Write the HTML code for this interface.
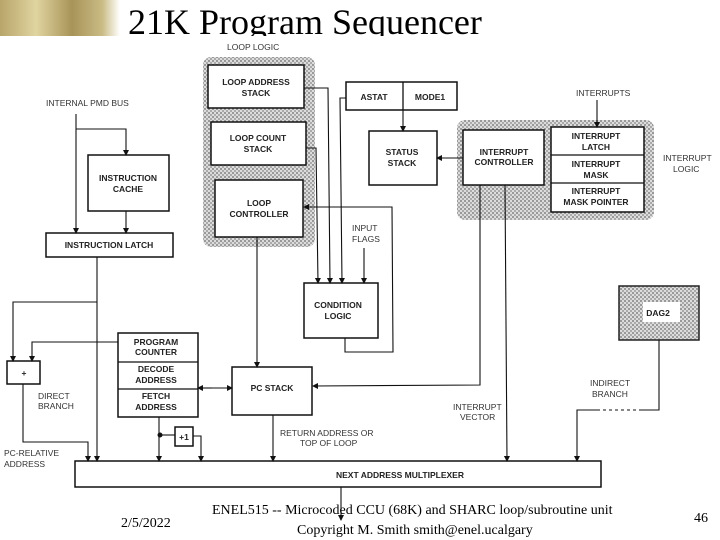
<!DOCTYPE html>
<html><head><meta charset="utf-8"><style>
html,body{margin:0;padding:0;background:#fff}
svg{display:block}
.t{font-family:"Liberation Sans",sans-serif;font-size:8.5px;font-weight:bold;fill:#222}
.l{font-family:"Liberation Sans",sans-serif;font-size:8.5px;fill:#333}
.s{font-family:"Liberation Serif",serif;fill:#000}
</style></head><body>
<svg width="720" height="540" viewBox="0 0 720 540" xmlns="http://www.w3.org/2000/svg">
<defs>
<linearGradient id="g" x1="0" x2="1" y1="0" y2="0">
<stop offset="0" stop-color="#b8a56a"/><stop offset="0.3" stop-color="#e0d4a0"/><stop offset="0.6" stop-color="#a89458"/><stop offset="0.85" stop-color="#c9bb85"/><stop offset="1" stop-color="#ffffff"/></linearGradient>
<pattern id="c" width="4" height="4" patternUnits="userSpaceOnUse"><rect width="4" height="4" fill="#dcdcdc"/><rect width="2" height="2" fill="#999"/><rect x="2" y="2" width="2" height="2" fill="#aaa"/></pattern>
<marker id="a" markerWidth="6" markerHeight="6" refX="5" refY="3" orient="auto" markerUnits="userSpaceOnUse"><path d="M0,0 L6,3 L0,6 z" fill="#111"/></marker>
</defs>
<rect x="0" y="0" width="120" height="36" fill="url(#g)"/>
<text class="s" x="128" y="34" font-size="36">21K Program Sequencer</text>
<rect x="0" y="36" width="720" height="10" fill="#fff"/>

<g class="l"><text x="227" y="50">LOOP LOGIC</text><text x="46" y="106">INTERNAL PMD BUS</text>
<text x="576" y="96">INTERRUPTS</text><text x="663" y="161">INTERRUPT</text><text x="673" y="172">LOGIC</text>
<text x="352" y="231">INPUT</text><text x="352" y="242">FLAGS</text>
<text x="38" y="399">DIRECT</text><text x="38" y="409">BRANCH</text>
<text x="4" y="456">PC-RELATIVE</text><text x="4" y="467">ADDRESS</text>
<text x="280" y="436">RETURN ADDRESS OR</text><text x="300" y="446">TOP OF LOOP</text>
<text x="453" y="410">INTERRUPT</text><text x="460" y="420">VECTOR</text>
<text x="590" y="386">INDIRECT</text><text x="592" y="397">BRANCH</text></g>

<rect x="203" y="57" width="112" height="190" rx="8" fill="url(#c)"/>
<rect x="457" y="120" width="197" height="100" rx="8" fill="url(#c)"/>
<rect x="619" y="286" width="80" height="54" fill="url(#c)" stroke="#222" stroke-width="1.5"/>
<rect x="643" y="302" width="37" height="20" fill="#fff"/>

<g fill="#fff" stroke="#111" stroke-width="1.5">
<rect x="208" y="65" width="96" height="43"/><rect x="211" y="122" width="95" height="43"/><rect x="215" y="180" width="88" height="57"/>
<rect x="88" y="155" width="81" height="56"/><rect x="46" y="233" width="127" height="24"/>
<rect x="346" y="82" width="111" height="28"/><rect x="369" y="131" width="68" height="54"/>
<rect x="463" y="130" width="81" height="55"/><rect x="551" y="127" width="93" height="85"/>
<rect x="304" y="283" width="74" height="55"/><rect x="118" y="333" width="80" height="84"/>
<rect x="232" y="367" width="80" height="48"/><rect x="7" y="361" width="33" height="23"/>
<rect x="175" y="427" width="18" height="19"/><rect x="75" y="461" width="526" height="26"/>
</g>
<g stroke="#111" stroke-width="1.3" fill="none">
<line x1="403" y1="82" x2="403" y2="110"/><line x1="551" y1="155" x2="644" y2="155"/><line x1="551" y1="183" x2="644" y2="183"/>
<line x1="118" y1="362" x2="198" y2="362"/><line x1="118" y1="389" x2="198" y2="389"/>
</g>
<g stroke="#111" stroke-width="1.1" fill="none" marker-end="url(#a)">
<polyline points="76,114 76,233"/><polyline points="76,129 126,129 126,155"/><polyline points="126,211 126,233"/>
<polyline points="97,257 97,461"/><polyline points="97,302 13,302 13,361"/><polyline points="118,342 32,342 32,361"/>
<polyline points="23,384 23,442 88,442 88,461"/><polyline points="159,417 159,461"/><polyline points="193,436 201,436 201,461"/>
<polyline points="257,237 257,367"/><polyline points="273,415 273,461"/>
<polyline points="304,88 328,88 330,283"/><polyline points="306,148 316,148 318,283"/><polyline points="346,98 340,98 342,283"/>
<polyline points="364,248 364,283"/><polyline points="345,338 345,352 393,352 392,207 304,207"/>
<polyline points="403,110 403,131"/><polyline points="463,158 437,158"/><polyline points="597,100 597,127"/>
<polyline points="480,185 480,385 313,386"/><polyline points="505,185 507,461"/>
<polyline points="659,340 659,410 577,410 577,461"/><polyline points="341,487 341,520"/>
<line x1="212" y1="388" x2="198" y2="388"/><line x1="212" y1="388" x2="232" y2="388"/>
</g>
<line x1="159" y1="435" x2="175" y2="435" stroke="#111" stroke-width="1.1"/>
<circle cx="160" cy="435" r="2.5" fill="#111"/>
<line x1="600" y1="410" x2="640" y2="410" stroke="#fff" stroke-width="1.5" stroke-dasharray="3,3"/>

<g class="t" text-anchor="middle">
<text x="256" y="85">LOOP ADDRESS</text><text x="256" y="96">STACK</text>
<text x="258" y="141">LOOP COUNT</text><text x="258" y="152">STACK</text>
<text x="259" y="206">LOOP</text><text x="259" y="217">CONTROLLER</text>
<text x="128" y="181">INSTRUCTION</text><text x="128" y="192">CACHE</text>
<text x="109" y="248">INSTRUCTION LATCH</text>
<text x="374" y="100">ASTAT</text><text x="430" y="100">MODE1</text>
<text x="402" y="155">STATUS</text><text x="402" y="166">STACK</text>
<text x="504" y="155">INTERRUPT</text><text x="504" y="165">CONTROLLER</text>
<text x="596" y="139">INTERRUPT</text><text x="596" y="150">LATCH</text>
<text x="596" y="167">INTERRUPT</text><text x="596" y="178">MASK</text>
<text x="596" y="194">INTERRUPT</text><text x="596" y="205">MASK POINTER</text>
<text x="338" y="308">CONDITION</text><text x="338" y="319">LOGIC</text>
<text x="658" y="316">DAG2</text>
<text x="156" y="345">PROGRAM</text><text x="156" y="355">COUNTER</text>
<text x="156" y="372">DECODE</text><text x="156" y="383">ADDRESS</text>
<text x="156" y="399">FETCH</text><text x="156" y="410">ADDRESS</text>
<text x="272" y="391">PC STACK</text><text x="24" y="376">+</text><text x="184" y="440">+1</text>
<text x="400" y="478">NEXT ADDRESS MULTIPLEXER</text>
</g>
<text class="s" x="121" y="527" font-size="14">2/5/2022</text>
<text class="s" x="212" y="514" font-size="14">ENEL515 -- Microcoded CCU (68K) and SHARC loop/subroutine unit</text>
<text class="s" x="297" y="534" font-size="14">Copyright M. Smith smith@enel.ucalgary</text>
<text class="s" x="694" y="522" font-size="14">46</text>
</svg>
</body></html>
